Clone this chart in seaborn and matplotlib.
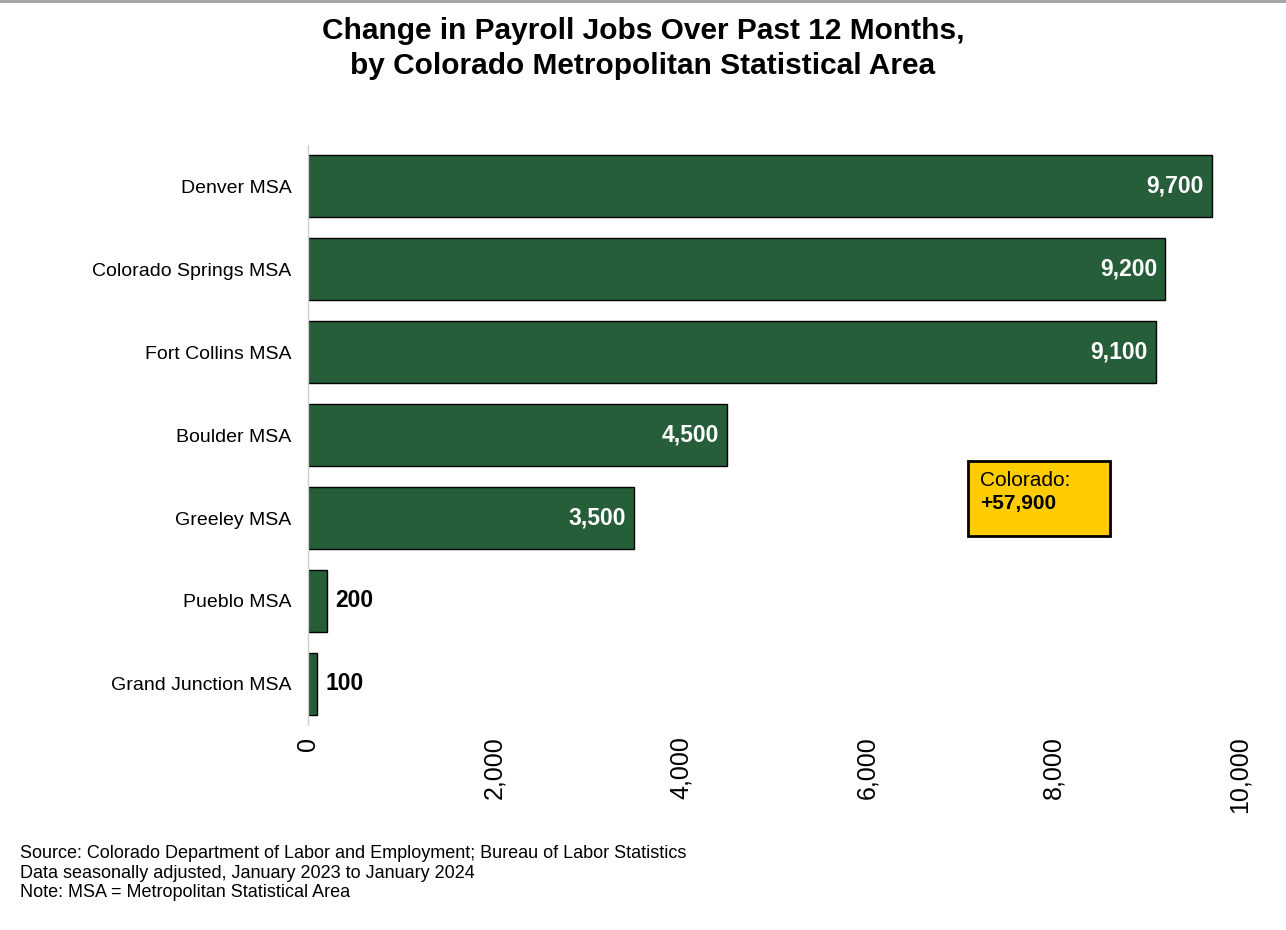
import matplotlib
matplotlib.use('Agg')
import matplotlib.pyplot as plt
import seaborn as sns
import pandas as pd
from matplotlib.patches import Rectangle
from matplotlib.lines import Line2D

areas = ['Denver MSA', 'Colorado Springs MSA', 'Fort Collins MSA', 'Boulder MSA',
         'Greeley MSA', 'Pueblo MSA', 'Grand Junction MSA']
jobs = [9700, 9200, 9100, 4500, 3500, 200, 100]
x_ticks = [0, 2000, 4000, 6000, 8000, 10000]

df = pd.DataFrame({'area': areas, 'jobs': jobs})

sns.set_style('white')
plt.rcParams['font.family'] = ['Liberation Sans', 'DejaVu Sans']
plt.rcParams['text.color'] = 'black'
plt.rcParams['xtick.color'] = 'black'
plt.rcParams['ytick.color'] = 'black'

fig = plt.figure(figsize=(12.86, 9.30), dpi=100)
ax = fig.add_axes([0.2395, 0.2199, 0.7247, 0.6247])

sns.barplot(data=df, x='jobs', y='area', color='#265E3A', saturation=1,
            edgecolor='black', linewidth=1, width=0.75, ax=ax)

ax.set_xlim(0, 10000)
ax.set_ylim(6.5, -0.5)
ax.set_xticks(x_ticks)
ax.set_xticklabels([f'{v:,}' for v in x_ticks], rotation=90, fontsize=18)
ax.tick_params(axis='y', labelsize=14, length=0, pad=12)
ax.tick_params(axis='x', length=0, pad=8)
ax.set_xlabel('')
ax.set_ylabel('')
for s in ['top', 'right', 'bottom']:
    ax.spines[s].set_visible(False)
ax.spines['left'].set_color('#d0d0d0')
ax.spines['left'].set_linewidth(1)

for i, v in enumerate(jobs):
    if v > 1000:
        ax.text(v - 90, i, f'{v:,}', ha='right', va='center', color='white',
                fontsize=16.5, fontweight='bold')
    else:
        ax.text(v + 90, i, f'{v:,}', ha='left', va='center', color='black',
                fontsize=16.5, fontweight='bold')

# top gray rule
fig.add_artist(Line2D([0, 1], [0.999, 0.999], color='#a0a0a0', lw=2,
                      transform=fig.transFigure))

fig.text(0.5, 1 - 17 / 930, 'Change in Payroll Jobs Over Past 12 Months,\nby Colorado Metropolitan Statistical Area',
         ha='center', va='top', fontsize=21.5, fontweight='bold', linespacing=1.3)

# Colorado total box
fig.add_artist(Rectangle((968 / 1286, 1 - 536 / 930), 142 / 1286, 75 / 930,
                         transform=fig.transFigure, facecolor='#FFCC00',
                         edgecolor='black', linewidth=2))
fig.text(980 / 1286, 1 - 480 / 930, 'Colorado:', ha='left', va='center', fontsize=15)
fig.text(980 / 1286, 1 - 503 / 930, '+57,900', ha='left', va='center', fontsize=15,
         fontweight='bold')

fig.text(20 / 1286, 1 - 845 / 930,
         'Source: Colorado Department of Labor and Employment; Bureau of Labor Statistics\n'
         'Data seasonally adjusted, January 2023 to January 2024\n'
         'Note: MSA = Metropolitan Statistical Area',
         ha='left', va='top', fontsize=13, linespacing=1.2)

fig.savefig('out.png', dpi=100)
